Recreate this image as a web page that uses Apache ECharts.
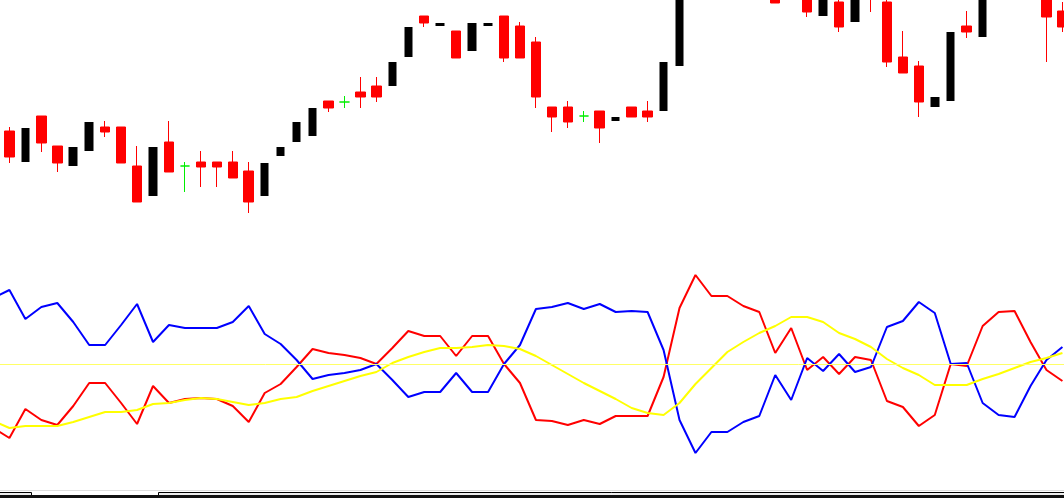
<!DOCTYPE html>
<html>
<head>
<meta charset="utf-8">
<script src="https://cdn.jsdelivr.net/npm/echarts/dist/echarts.min.js"></script>
<style>
  html, body { margin: 0; padding: 0; background: #fff; }
  #klineChart { width: 1064px; height: 498px; }
</style>
</head>
<body>
<div id="klineChart"></div>
<script>
// first slot is the bar just left of the window (only its indicator values show)
const days = Array.from({ length: 68 }, (_, i) => 'D' + i)

const open = [null,
  119, 88, 134, 104, 84, 99, 123, 123, 84, 54, 108, 84, 88, 88, 88, 79, 54, 94, 108, 114,
  149, 148, 158, 164, 164, 193, 234, 224, 219, 199, 224, 234, 224, 208, 143, 143, 134, 139, 129, 143,
  139, 139, 184, 272, 318, 296, 322, 300, 278, 253, 268, 234, 248, 228, 275, 248, 193, 184, 143, 149,
  224, 213, 276, 305, 290, 270, 239]
const close = [null,
  93, 122, 107, 87, 103, 128, 118, 87, 48, 103, 78, 84, 83, 83, 72, 48, 87, 103, 128, 142,
  142, 148, 153, 153, 188, 223, 227, 227, 192, 227, 227, 192, 192, 153, 133, 128, 134, 122, 133, 133,
  133, 188, 272, 300, 298, 320, 300, 276, 247, 274, 238, 262, 223, 262, 256, 188, 177, 148, 153, 218,
  218, 275, 300, 285, 268, 233, 223]
const low = [null,
  87, 88, 98, 78, 84, 99, 113, 87, 48, 54, 78, 58, 63, 63, 72, 37, 54, 94, 108, 114,
  138, 142, 142, 148, 164, 193, 223, 224, 192, 199, 224, 188, 192, 142, 118, 122, 128, 107, 129, 133,
  128, 139, 184, 272, 292, 296, 296, 270, 247, 253, 233, 234, 218, 228, 238, 183, 177, 133, 143, 149,
  212, 213, 276, 280, 262, 188, 218]
const high = [null,
  123, 122, 134, 104, 103, 128, 129, 123, 104, 103, 129, 88, 99, 88, 99, 88, 87, 103, 128, 142,
  149, 154, 173, 173, 188, 223, 234, 227, 219, 227, 227, 234, 228, 213, 143, 149, 139, 139, 133, 143,
  149, 188, 272, 300, 322, 320, 326, 304, 282, 274, 274, 262, 256, 262, 280, 256, 219, 189, 153, 218,
  239, 275, 300, 308, 292, 276, 248]

// indicator lines (0 = the pale yellow reference line)
const upLine = [66,
  74, 45, 57, 61, 42, 19, 19, 39, 60, 22, 39, 36, 36, 36, 42, 58, 30, 20, 4, -15,
  -11, -9, -6, 0, -16, -33, -28, -28, -9, -28, -28, 0, 19, 55, 57, 61, 55, 60, 52, 53,
  52, 14, -56, -89, -68, -68, -58, -52, -11, -36, 6, -7, 10, -8, -3, 37, 43, 62, 51, 0,
  1, -39, -51, -53, -22, 4, 17]
const downLine = [-64,
  -74, -45, -56, -61, -42, -19, -19, -39, -60, -22, -39, -35, -34, -35, -42, -58, -29, -20, -3, 15,
  11, 9, 6, 0, 16, 33, 28, 28, 8, 28, 28, 0, -19, -56, -57, -61, -56, -60, -52, -52,
  -52, -13, 56, 89, 68, 68, 58, 52, 11, 36, -6, 7, -10, 7, 4, -37, -43, -62, -51, 0,
  -2, 38, 52, 53, 22, -6, -17]
const trendLine = [-57,
  -64, -62, -62, -62, -58, -53, -48, -48, -46, -40, -39, -36, -34, -35, -38, -41, -39, -35, -33, -27,
  -22, -17, -12, -8, 1, 7, 12, 16, 16, 17, 19, 18, 15, 8, -1, -10, -19, -27, -35, -44,
  -49, -51, -39, -20, -4, 12, 22, 31, 38, 47, 47, 42, 31, 25, 17, 5, -4, -11, -21, -21,
  -21, -15, -10, -4, 2, 6, 11]

const pick = (test) => open.map((o, i) =>
  o === null || !test(o, close[i]) ? '-' : [o, close[i], low[i], high[i]])

const chartDom = document.getElementById('klineChart')
const myChart = echarts.init(chartDom)

const hiddenAxis = { show: false, splitLine: { show: false } }

const option = {
  animation: false,
  backgroundColor: '#fff',
  // grids run a little past both edges so the bars sit where the reference has them
  grid: [
    { left: -14.5, width: 1084.9, top: 0, height: 250, outerBoundsMode: 'none', containLabel: false },
    { left: -14.5, width: 1084.9, top: 260, height: 230, outerBoundsMode: 'none', containLabel: false },
  ],
  xAxis: [
    { type: 'category', data: days, gridIndex: 0, boundaryGap: true, ...hiddenAxis },
    { type: 'category', data: days, gridIndex: 1, boundaryGap: true, ...hiddenAxis },
  ],
  yAxis: [
    { type: 'value', gridIndex: 0, min: 0, max: 250, ...hiddenAxis },
    { type: 'value', gridIndex: 1, min: -126, max: 104, ...hiddenAxis },
  ],
  series: [
    {
      name: 'up',
      type: 'candlestick',
      clip: true,
      barWidth: 9,
      data: pick((o, c) => c > o),
      itemStyle: { color: '#000', color0: '#000', borderColor: '#000', borderColor0: '#000', borderWidth: 0 },
    },
    {
      name: 'down',
      type: 'candlestick',
      clip: true,
      barWidth: 10,
      data: pick((o, c) => c < o),
      itemStyle: { color: '#ff0000', color0: '#ff0000', borderColor: '#ff0000', borderColor0: '#ff0000', borderWidth: 1 },
    },
    {
      name: 'doji',
      type: 'candlestick',
      clip: true,
      barWidth: 10,
      data: pick((o, c) => c === o),
      itemStyle: { color: '#00ee00', color0: '#00ee00', borderColor: '#00ee00', borderColor0: '#00ee00', borderWidth: 1 },
    },
    {
      name: 'down line',
      type: 'line',
      xAxisIndex: 1,
      yAxisIndex: 1,
      data: downLine,
      symbol: 'none',
      lineStyle: { color: '#ff0000', width: 2 },
    },
    {
      name: 'up line',
      type: 'line',
      xAxisIndex: 1,
      yAxisIndex: 1,
      data: upLine,
      symbol: 'none',
      lineStyle: { color: '#0000ff', width: 2 },
    },
    {
      name: 'trend',
      type: 'line',
      xAxisIndex: 1,
      yAxisIndex: 1,
      data: trendLine,
      symbol: 'none',
      lineStyle: { color: '#ffff00', width: 2 },
      markLine: {
        silent: true,
        symbol: 'none',
        label: { show: false },
        lineStyle: { color: '#ffff66', width: 1, type: 'solid' },
        data: [{ yAxis: 0 }],
      },
    },
  ],
  // scroll strip along the bottom edge
  graphic: [
    { type: 'rect', shape: { x: 0, y: 490, width: 1064, height: 1 }, style: { fill: '#dedede' } },
    { type: 'rect', shape: { x: -1, y: 492.5, width: 32.5, height: 4 }, style: { fill: '#ececec', stroke: '#000', lineWidth: 1 } },
    { type: 'rect', shape: { x: 158.5, y: 492.5, width: 907, height: 4 }, style: { fill: '#ececec', stroke: '#000', lineWidth: 1 } },
    { type: 'rect', shape: { x: 0, y: 495, width: 1064, height: 3 }, style: { fill: '#111' } },
  ],
}

myChart.setOption(option)
</script>
</body>
</html>
